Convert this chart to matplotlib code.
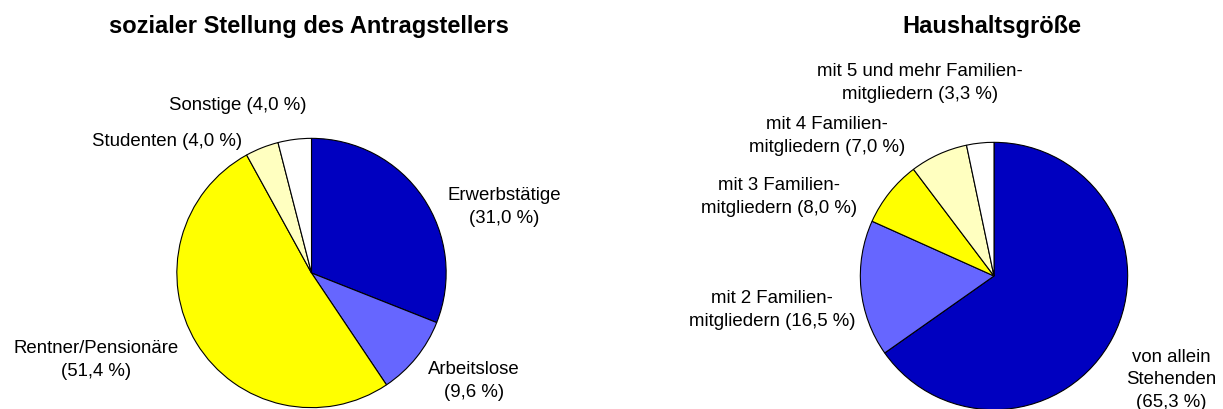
import matplotlib
matplotlib.use("Agg")
import matplotlib.pyplot as plt

plt.rcParams['font.family'] = ['Liberation Sans', 'DejaVu Sans']

# Daten
stellung_labels = ["Erwerbstätige\n(31,0 %)", "Arbeitslose\n(9,6 %)", "Rentner/Pensionäre\n(51,4 %)",
                   "Studenten (4,0 %)", "Sonstige (4,0 %)"]
stellung_werte = [31.0, 9.6, 51.4, 4.0, 4.0]

haushalt_labels = ["von allein\nStehenden\n(65,3 %)", "mit 2 Familien-\nmitgliedern (16,5 %)",
                   "mit 3 Familien-\nmitgliedern (8,0 %)", "mit 4 Familien-\nmitgliedern (7,0 %)",
                   "mit 5 und mehr Familien-\nmitgliedern (3,3 %)"]
haushalt_werte = [65.3, 16.5, 8.0, 7.0, 3.3]

farben = ["#0000C0", "#6666FF", "#FFFF00", "#FFFFC0", "#FFFFFF"]

W, H = 1223, 409
fig = plt.figure(figsize=(W / 100, H / 100), dpi=100)


def px_axes(cx, cy, r):
    # Achse in Pixeln (y von oben)
    return fig.add_axes([(cx - r) / W, (H - cy - r) / H, 2 * r / W, 2 * r / H])


def px_text(x, y, s, **kw):
    kw.setdefault('fontsize', 13.4)
    fig.text(x / W, 1 - y / H, s, ha='center', va='center', linespacing=1.42, **kw)


def torte(ax, werte):
    ax.pie(werte, colors=farben, startangle=90, counterclock=False,
           wedgeprops=dict(edgecolor='black', linewidth=0.8))
    ax.set_xlim(-1.01, 1.01)
    ax.set_ylim(-1.01, 1.01)
    ax.set_aspect('equal')
    ax.axis('off')


ax1 = px_axes(311.5, 273, 136)
torte(ax1, stellung_werte)
ax2 = px_axes(994, 276, 135)
torte(ax2, haushalt_werte)

px_text(309, 27, "sozialer Stellung des Antragstellers", fontweight='bold', fontsize=17)
px_text(992, 27, "Haushaltsgröße", fontweight='bold', fontsize=17)

pos1 = [(504, 207), (474, 381), (96, 360), (167, 142), (238, 105)]
for (x, y), s in zip(pos1, stellung_labels):
    px_text(x, y, s)

pos2 = [(1171, 380), (772, 310), (779, 197), (827, 136), (920, 83)]
for (x, y), s in zip(pos2, haushalt_labels):
    px_text(x, y, s)

fig.savefig("out.png", dpi=100)
